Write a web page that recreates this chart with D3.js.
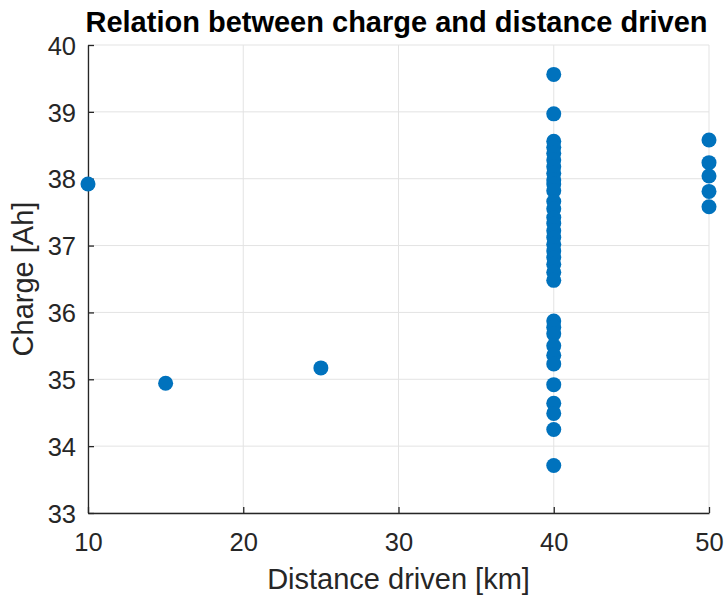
<!DOCTYPE html>
<html>
<head>
<meta charset="utf-8">
<script src="https://cdn.jsdelivr.net/npm/d3@7"></script>
<style>
  body { margin: 0; background: #fff; }
  text { font-family: "Liberation Sans", Arial, sans-serif; fill: #262626; }
</style>
</head>
<body>
<svg id="chart" width="725" height="598"></svg>
<script>
// distance driven [km]
const distance = [10, 15, 25,
    40, 40, 40, 40, 40, 40, 40, 40, 40, 40, 40, 40, 40, 40, 40, 40, 40,
    40, 40, 40, 40, 40, 40, 40, 40, 40, 40, 40, 40, 40, 40, 40, 40, 40,
    50, 50, 50, 50, 50];
// charge [Ah]
const charge = [37.92, 34.94, 35.17,
    39.56, 38.97, 38.56, 38.47, 38.38, 38.28, 38.18, 38.08, 37.98, 37.92, 37.82, 37.66, 37.55,
    37.42, 37.33, 37.22, 37.12, 37.02, 36.92, 36.82, 36.72, 36.60, 36.48,
    35.87, 35.78, 35.68, 35.50, 35.36, 35.23, 34.92, 34.64, 34.49, 34.25, 33.71,
    38.58, 38.24, 38.04, 37.81, 37.58];

const xTicks = [10, 20, 30, 40, 50];
const yTicks = [33, 34, 35, 36, 37, 38, 39, 40];

const svg = d3.select("#chart");
const pLeft = 88, pRight = 709, pTop = 45, pBottom = 513;

let x = d3.scaleLinear().domain([10, 50]).range([pLeft, pRight]);
let y = d3.scaleLinear().domain([33, 40]).range([pBottom, pTop]);

// grid
svg.append("g").selectAll("line").data(xTicks).enter().append("line")
    .attr("x1", d => x(d)).attr("x2", d => x(d))
    .attr("y1", pTop).attr("y2", pBottom)
    .attr("stroke", "#e3e3e3").attr("stroke-width", 1);
svg.append("g").selectAll("line").data(yTicks).enter().append("line")
    .attr("x1", pLeft).attr("x2", pRight)
    .attr("y1", d => y(d)).attr("y2", d => y(d))
    .attr("stroke", "#e3e3e3").attr("stroke-width", 1);

// axes
let xAxis = svg.append("g").attr("transform", "translate(0," + pBottom + ")")
    .call(d3.axisBottom(x).tickValues(xTicks).tickFormat(d3.format("d"))
        .tickSizeInner(-6).tickSizeOuter(0).tickPadding(20));
let yAxis = svg.append("g").attr("transform", "translate(" + pLeft + ",0)")
    .call(d3.axisLeft(y).tickValues(yTicks).tickFormat(d3.format("d"))
        .tickSizeInner(-6).tickSizeOuter(0).tickPadding(12));

[xAxis, yAxis].forEach(function (a) {
    a.select(".domain").attr("stroke", "#262626").attr("stroke-width", 1.3);
    a.selectAll(".tick line").attr("stroke", "#262626").attr("stroke-width", 1.3);
    a.selectAll(".tick text").style("font-size", "25.5px").attr("fill", "#262626");
});
xAxis.selectAll(".tick text").attr("dy", "0.71em");
yAxis.selectAll(".tick text").attr("dy", "0.36em");

// points
svg.append("g").selectAll("circle").data(distance.map((d, i) => [d, charge[i]]))
    .enter().append("circle")
    .attr("cx", d => x(d[0])).attr("cy", d => y(d[1]))
    .attr("r", 7.5).attr("fill", "#0072BD");

// labels
svg.append("text").attr("x", 396.5).attr("y", 31.5)
    .attr("text-anchor", "middle").style("font-size", "29px").style("font-weight", "bold")
    .style("fill", "#000")
    .text("Relation between charge and distance driven");
svg.append("text").attr("x", (pLeft + pRight) / 2).attr("y", 589)
    .attr("text-anchor", "middle").style("font-size", "29px")
    .text("Distance driven [km]");
svg.append("text").attr("transform", "translate(33," + ((pTop + pBottom) / 2) + ") rotate(-90)")
    .attr("text-anchor", "middle").style("font-size", "29px")
    .text("Charge [Ah]");
</script>
</body>
</html>
